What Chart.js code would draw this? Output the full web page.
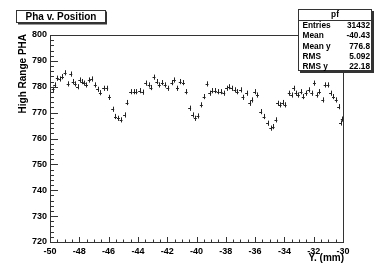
<!DOCTYPE html>
<html><head><meta charset="utf-8">
<script src="https://cdn.jsdelivr.net/npm/chart.js@4"></script>
<style>html,body{margin:0;padding:0;background:#fff}#c{display:block}</style>
</head><body>
<canvas id="c" width="381" height="263"></canvas>
<script>
const titleText = "Pha v. Position";
const xTitle = "Y. (mm)";
const yTitle = "High Range PHA";
const statsName = "pf";
const statsLabels = ["Entries","Mean","Mean y","RMS","RMS y"];
const statsValues = ["31432","-40.43","776.8","5.092","22.18"];
const xTickValues = [-50,-48,-46,-44,-42,-40,-38,-36,-34,-32,-30];
const yTickValues = [720,730,740,750,760,770,780,790,800];
const xVals = [-49.79,-49.68,-49.50,-49.34,-49.15,-48.97,-48.76,-48.58,-48.42,-48.28,-48.12,-47.97,-47.80,-47.66,-47.51,-47.32,-47.16,-46.91,-46.75,-46.56,-46.34,-46.13,-45.94,-45.72,-45.53,-45.33,-45.15,-44.91,-44.74,-44.50,-44.27,-44.12,-43.88,-43.68,-43.47,
-43.24,-43.11,-42.90,-42.71,-42.54,-42.33,-42.14,-41.96,-41.68,-41.51,-41.30,-41.11,-40.89,-40.70,-40.47,-40.27,-40.08,-39.90,-39.67,-39.48,-39.28,-39.10,-38.93,-38.71,-38.52,-38.32,-38.14,-37.95,-37.79,-37.61,-37.38,-37.22,-36.99,-36.83,
-36.58,-36.37,-36.23,-36.03,-35.84,-35.62,-35.39,-35.15,-34.93,-34.77,-34.58,-34.47,-34.29,-34.12,-33.95,-33.67,-33.51,-33.37,-33.21,-33.05,-32.87,-32.71,-32.52,-32.34,-32.13,-31.95,-31.77,-31.61,-31.38,-31.22,-31.03,-30.85,-30.65,-30.46,-30.30,-30.17,-30.05];
const yVals = [779.0,780.7,783.3,783.0,783.9,785.4,781.1,784.9,782.0,781.1,780.0,782.6,782.0,781.4,780.7,782.6,783.0,780.7,779.0,777.7,779.4,779.4,775.9,771.3,768.5,767.8,767.2,769.1,773.9,778.1,778.1,778.1,778.5,777.9,781.4,
780.7,779.7,783.7,782.0,780.7,781.6,780.7,779.4,781.6,782.6,779.4,782.0,781.6,778.1,771.7,769.1,767.8,768.7,773.0,776.2,781.1,777.5,778.5,778.5,778.1,778.1,777.5,779.4,780.0,779.4,778.8,778.1,778.8,775.9,
777.5,773.6,774.9,778.1,776.8,770.4,768.5,765.9,764.0,764.6,767.2,773.6,773.0,773.9,773.0,777.5,776.8,779.4,777.5,776.8,778.1,776.2,777.5,778.8,777.5,781.4,776.8,778.1,774.9,780.7,780.7,777.5,776.2,774.9,772.3,766.0,767.5];
const yErr = 1.0;
const xHalf = 0.1;

const FONT = '"Liberation Sans", Arial, Helvetica, sans-serif';

const rootPlugin = {
  id: 'rootDecor',
  afterDraw(chart) {
    const ctx = chart.ctx;
    const xs = chart.scales.x, ys = chart.scales.y;
    const a = chart.chartArea;
    ctx.save();
    // error bars
    ctx.strokeStyle = '#222';
    ctx.lineWidth = 1;
    ctx.beginPath();
    for (let i = 0; i < xVals.length; i++) {
      const px = Math.round(xs.getPixelForValue(xVals[i])) + 0.5;
      const py = Math.round(ys.getPixelForValue(yVals[i])) + 0.5;
      ctx.moveTo(px, ys.getPixelForValue(yVals[i] - yErr));
      ctx.lineTo(px, ys.getPixelForValue(yVals[i] + yErr));
      ctx.moveTo(xs.getPixelForValue(xVals[i] - xHalf), py);
      ctx.lineTo(xs.getPixelForValue(xVals[i] + xHalf), py);
    }
    ctx.stroke();
    // frame
    ctx.strokeStyle = '#333';
    ctx.strokeRect(a.left + 0.5, a.top + 0.5, a.right - a.left, a.bottom - a.top);
    // y ticks
    ctx.beginPath();
    for (let v = 720; v <= 800; v += 2) {
      const len = (v % 10 === 0) ? 8 : 4;
      const py = Math.round(ys.getPixelForValue(v)) + 0.5;
      ctx.moveTo(a.left, py); ctx.lineTo(a.left + len, py);
    }
    // x ticks
    for (let k = 0; k <= 40; k++) {
      const v = -50 + k * 0.5;
      const len = (k % 4 === 0) ? 5 : 2.5;
      const px = Math.round(xs.getPixelForValue(v)) + 0.5;
      ctx.moveTo(px, a.bottom); ctx.lineTo(px, a.bottom - len);
    }
    ctx.stroke();
    // title box
    ctx.fillStyle = '#333';
    ctx.fillRect(18, 11.5, 89, 13);
    ctx.fillStyle = '#fff';
    ctx.fillRect(16, 10, 89, 13);
    ctx.strokeStyle = '#333';
    ctx.strokeRect(16.5, 10.5, 89, 12);
    ctx.fillStyle = '#000';
    ctx.font = 'bold 10px ' + FONT;
    ctx.textAlign = 'center';
    ctx.textBaseline = 'middle';
    ctx.fillText(titleText, 61, 17);
    // stats box
    ctx.fillStyle = '#333';
    ctx.fillRect(300, 11, 74, 62);
    ctx.fillStyle = '#fff';
    ctx.fillRect(298, 9, 74, 62);
    ctx.strokeRect(298.5, 9.5, 73, 61);
    ctx.beginPath();
    ctx.moveTo(298.5, 20.5); ctx.lineTo(371.5, 20.5);
    ctx.stroke();
    ctx.fillStyle = '#000';
    ctx.font = 'bold 8.3px ' + FONT;
    ctx.textAlign = 'center';
    ctx.fillText(statsName, 335, 15);
    for (let i = 0; i < statsLabels.length; i++) {
      const yy = 25.5 + i * 10.4;
      ctx.textAlign = 'left';
      ctx.fillText(statsLabels[i], 302.5, yy);
      ctx.textAlign = 'right';
      ctx.fillText(statsValues[i], 370, yy);
    }
    // axis titles
    ctx.font = 'bold 10px ' + FONT;
    ctx.textAlign = 'right';
    ctx.textBaseline = 'alphabetic';
    ctx.fillText(xTitle, a.right + 1, 261);
    ctx.translate(26, a.top - 1);
    ctx.rotate(-Math.PI / 2);
    ctx.fillText(yTitle, 0, 0);
    ctx.restore();
  }
};

new Chart(document.getElementById('c'), {
  type: 'scatter',
  data: { datasets: [{ data: xVals.map((x, i) => ({ x: x, y: yVals[i] })), pointRadius: 0, showLine: false }] },
  options: {
    responsive: false, animation: false, devicePixelRatio: 1,
    layout: { padding: { top: 35, right: 38, left: 0, bottom: 0 } },
    plugins: { legend: { display: false }, tooltip: { enabled: false } },
    scales: {
      x: {
        type: 'linear', min: -50, max: -30,
        grid: { display: false, drawTicks: false }, border: { display: false },
        afterBuildTicks: s => { s.ticks = xTickValues.map(v => ({ value: v })); },
        afterFit: s => { s.height = 21; },
        ticks: { autoSkip: false, maxRotation: 0, padding: 4, color: '#000', font: { family: FONT, size: 9, weight: 'bold' }, callback: v => String(v) }
      },
      y: {
        type: 'linear', min: 720, max: 800,
        grid: { display: false, drawTicks: false }, border: { display: false },
        afterBuildTicks: s => { s.ticks = yTickValues.map(v => ({ value: v })); },
        afterFit: s => { s.width = 50; },
        ticks: { autoSkip: false, padding: 3, color: '#000', font: { family: FONT, size: 9, weight: 'bold' }, callback: v => String(v) }
      }
    }
  },
  plugins: [rootPlugin]
});
</script>
</body></html>
